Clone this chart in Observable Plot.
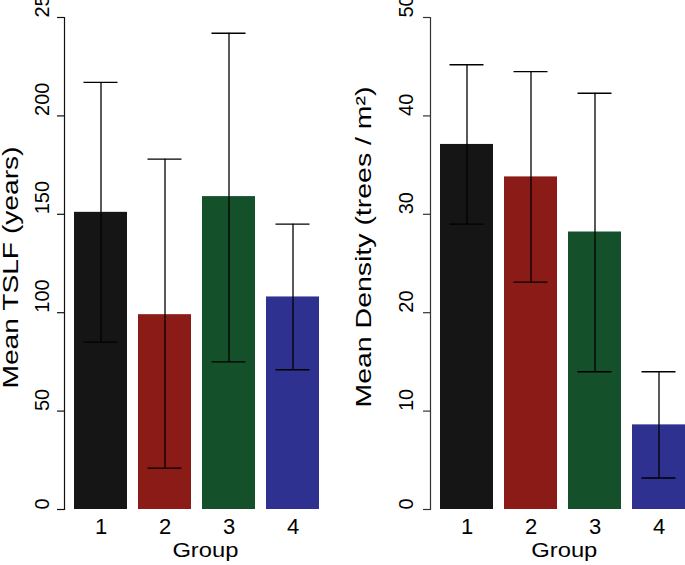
<!DOCTYPE html>
<html>
<head>
<meta charset="utf-8">
<script src="https://cdn.jsdelivr.net/npm/d3@7"></script>
<script src="https://cdn.jsdelivr.net/npm/@observablehq/plot@0.6"></script>
<style>
  html, body { margin: 0; padding: 0; background: #fff; }
  #wrap { position: relative; width: 685px; height: 565px; overflow: hidden; background: #fff; }
  #left, #right { position: absolute; top: 0; }
  #left { left: 0; }
  #right { left: 340px; }
  svg { display: block; }
</style>
</head>
<body>
<div id="wrap"><div id="left"></div><div id="right"></div></div>
<script>
// ---- data ----
const groups = ["1", "2", "3", "4"];
const groupColors = ["#151515", "#8b1b16", "#14502a", "#2e3190"];

const tslfMean  = [151, 99, 159, 108];
const tslfLower = [85, 21, 75, 71];
const tslfUpper = [217, 178, 242, 145];
const tslfTicks = [0, 50, 100, 150, 200, 250];

const densMean  = [37.1, 33.8, 28.2, 8.6];
const densLower = [29.0, 23.1, 14.0, 3.2];
const densUpper = [45.2, 44.5, 42.3, 14.0];
const densTicks = [0, 10, 20, 30, 40, 50];

const xLabel = "Group";
const tslfLabel = "Mean TSLF (years)";
const densLabel = "Mean Density (trees / m\u00b2)";

const FONT = "'Liberation Sans', Arial, Helvetica, sans-serif";

function panel(opts) {
  const rows = groups.map((g, i) => ({
    g, mean: opts.mean[i], lo: opts.lower[i], hi: opts.upper[i], color: groupColors[i]
  }));
  const svg = Plot.plot({
    width: opts.width,
    height: 565,
    marginLeft: opts.marginLeft,
    marginRight: opts.marginRight,
    marginTop: 17,
    marginBottom: 56,
    style: { fontFamily: FONT, fontSize: "21px", color: "#000", background: "transparent" },
    x: { type: "band", domain: groups, range: opts.xRange, paddingInner: 11 / 64, paddingOuter: 0, axis: null },
    y: { domain: opts.domain, axis: null },
    marks: [
      Plot.barY(rows, { x: "g", y: "mean", fill: "color" }),
      Plot.ruleX(rows, { x: "g", y1: "lo", y2: "hi", stroke: "#000", strokeWidth: 1.3 }),
      Plot.tickY(rows, { x: "g", y: "hi", stroke: "#000", strokeWidth: 1.3, insetLeft: 9.5, insetRight: 9.5 }),
      Plot.tickY(rows, { x: "g", y: "lo", stroke: "#000", strokeWidth: 1.3, insetLeft: 9.5, insetRight: 9.5 }),
      Plot.frame({ anchor: "left", stroke: opts.axisColor, strokeWidth: 1.2 }),
      Plot.axisY({ ticks: opts.ticks, tickSize: 7, tickFormat: () => "", label: null, stroke: opts.axisColor, strokeWidth: 1.2 }),
      Plot.text(opts.ticks, { y: d => d, text: d => String(d), frameAnchor: "left", rotate: -90, lineAnchor: "middle", dx: opts.tickDx, fontSize: 20, fill: "#000" }),
      Plot.text(groups, { x: d => d, text: d => d, frameAnchor: "bottom", lineAnchor: "top", dy: 9, fontSize: 22, fill: "#000" }),
      Plot.text([xLabel], { text: d => d, frameAnchor: "bottom", lineAnchor: "top", dx: opts.groupDx, dy: 33.5, fontSize: 20, fill: "#000" }),
      Plot.text([opts.label], { text: d => d, frameAnchor: "left", rotate: -90, lineAnchor: "middle", textAnchor: "start", dx: opts.labelDx, dy: opts.labelDy, fontSize: 22, fill: "#000" })
    ]
  });
  // stretch titles to the reference's lengths
  d3.select(svg).selectAll("text").each(function () {
    const t = this.textContent;
    if (t === opts.label) d3.select(this).attr("textLength", opts.labelLen).attr("lengthAdjust", "spacingAndGlyphs");
    if (t === xLabel) d3.select(this).attr("textLength", 66).attr("lengthAdjust", "spacingAndGlyphs");
  });
  return svg;
}

// label start (bottom end, since rotated) = centre + length/2; frame middle is y = 263
document.getElementById("left").appendChild(panel({
  width: 340, marginLeft: 64, marginRight: 21, xRange: [74, 319],
  domain: [0, 250], ticks: tslfTicks,
  mean: tslfMean, lower: tslfLower, upper: tslfUpper,
  label: tslfLabel, labelDx: -53.5, labelDy: 267 + 121 - 263, labelLen: 242,
  tickDx: -22, groupDx: 13.4, axisColor: "#111"
}));

document.getElementById("right").appendChild(panel({
  width: 345, marginLeft: 90, marginRight: 0, xRange: [100, 345],
  domain: [0, 50], ticks: densTicks,
  mean: densMean, lower: densLower, upper: densUpper,
  label: densLabel, labelDx: -67, labelDy: 246.5 + 160.5 - 263, labelLen: 321,
  tickDx: -24, groupDx: 6.3, axisColor: "#333"
}));
</script>
</body>
</html>
